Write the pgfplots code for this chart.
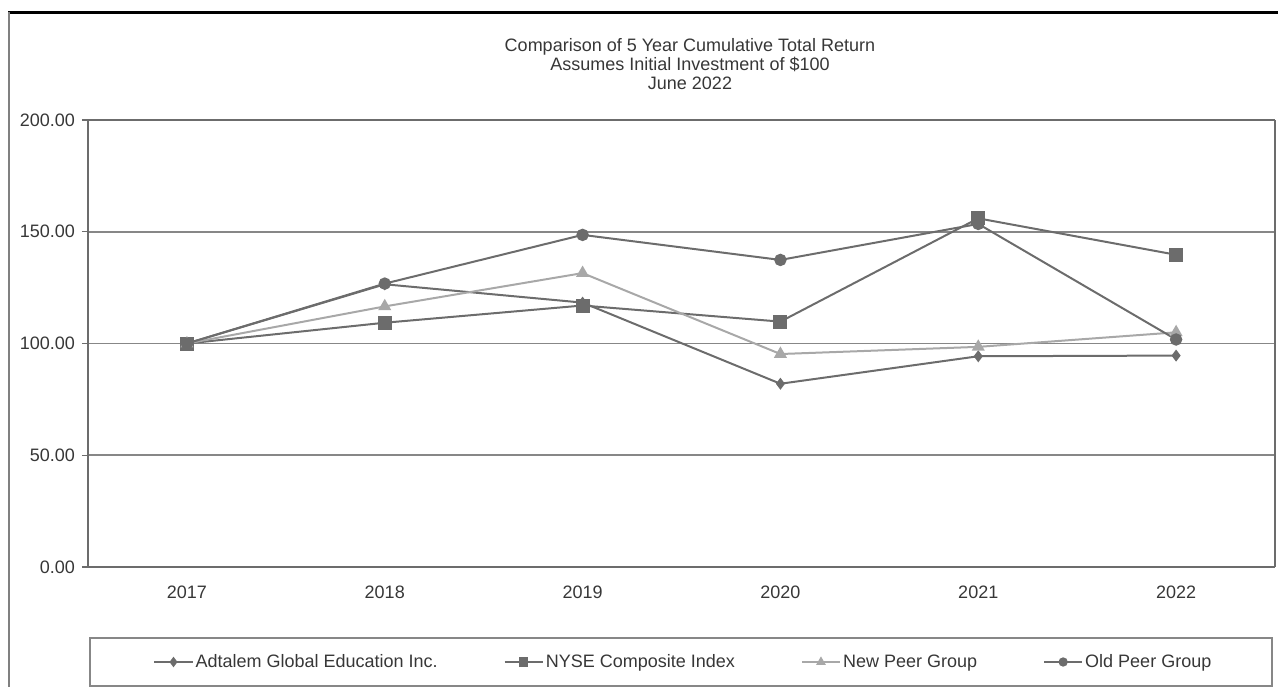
\documentclass[border=0pt]{standalone}
\usepackage{pgfplots}
\pgfplotsset{compat=1.18}
\usepackage{fontspec}
\setmainfont{Liberation Sans}
\definecolor{dk}{RGB}{108,108,108}
\definecolor{lt}{RGB}{168,168,168}
\definecolor{gridc}{RGB}{135,135,135}
\definecolor{txt}{RGB}{55,55,55}
\begin{document}
\begin{tikzpicture}[x=1pt,y=1pt]
\useasboundingbox (0pt,0pt) rectangle (639pt,-343.5pt);
\draw[line width=1.5pt, black] (4pt,-6pt) -- (639pt,-6pt);
\draw[line width=0.8pt, gray] (4.5pt,-6pt) -- (4.5pt,-343.5pt);
\node[align=center, text=txt, font=\fontsize{9}{9.5}\selectfont, anchor=center, inner sep=0pt] at (345pt,-32pt) {Comparison of 5 Year Cumulative Total Return\\Assumes Initial Investment of \$100\\June 2022};
\draw[gridc, line width=0.8pt] (45pt,-319pt) rectangle (636pt,-343pt);
\begin{axis}[
  at={(44pt,-283.5pt)}, anchor=south west,
  width=593.5pt, height=223.5pt, scale only axis,
  xmin=-0.5, xmax=5.5, ymin=0, ymax=200,
  xtick={0,1,2,3,4,5},
  xticklabels={2017,2018,2019,2020,2021,2022},
  ytick={0,50,100,150,200},
  /pgf/number format/assume math mode=true,
  yticklabel={\pgfmathprintnumber[fixed,fixed zerofill,precision=2]{\tick}},
  ticklabel style={font=\fontsize{9}{10}\selectfont, text=txt},
  xticklabel style={yshift=-3pt},
  yticklabel style={xshift=0pt},
  tick align=outside,
  major tick length=3pt,
  xtick pos=bottom, ytick pos=left,
  x tick style={draw=none},
  y tick style={dk, line width=0.6pt},
  separate axis lines,
  x axis line style={dk, line width=1.3pt},
  y axis line style={dk, line width=0.9pt},
  ymajorgrids,
  grid style={gridc, line width=0.9pt},
  clip=false,
  legend columns=4,
  legend image code/.code={\draw[mark repeat=2,mark phase=2] plot coordinates {(0cm,0cm) (0.335cm,0cm) (0.67cm,0cm)};},
  legend image post style={mark size=1.8pt},
  legend style={at={(0.0548,-0.2125)}, anchor=west, draw=none, fill=none,
    inner sep=0pt, nodes={inner sep=1pt, text height=1.6ex, text depth=0.5ex},
    font=\fontsize{9}{10}\selectfont, text=txt,
    /tikz/every even column/.append style={column sep=32pt}},
  legend cell align=left,
]
\addplot[dk, line width=1pt, mark=diamond*, mark size=2.2pt] coordinates {(0,100) (1,126.5) (2,118.3) (3,82) (4,94.3) (5,94.6)};
\addlegendentry{Adtalem Global Education Inc.}
\addplot[dk, line width=1pt, mark=square*, mark size=3pt] coordinates {(0,100) (1,109.3) (2,117) (3,109.8) (4,156) (5,139.7)};
\addlegendentry{NYSE Composite Index}
\addplot[lt, line width=1pt, mark=triangle*, mark size=2.8pt] coordinates {(0,100) (1,116.6) (2,131.5) (3,95.3) (4,98.5) (5,105)};
\addlegendentry{New Peer Group}
\addplot[dk, line width=1pt, mark=*, mark size=2.6pt] coordinates {(0,100) (1,126.8) (2,148.6) (3,137.4) (4,153.5) (5,101.8)};
\addlegendentry{Old Peer Group}
\end{axis}
\end{tikzpicture}
\end{document}
